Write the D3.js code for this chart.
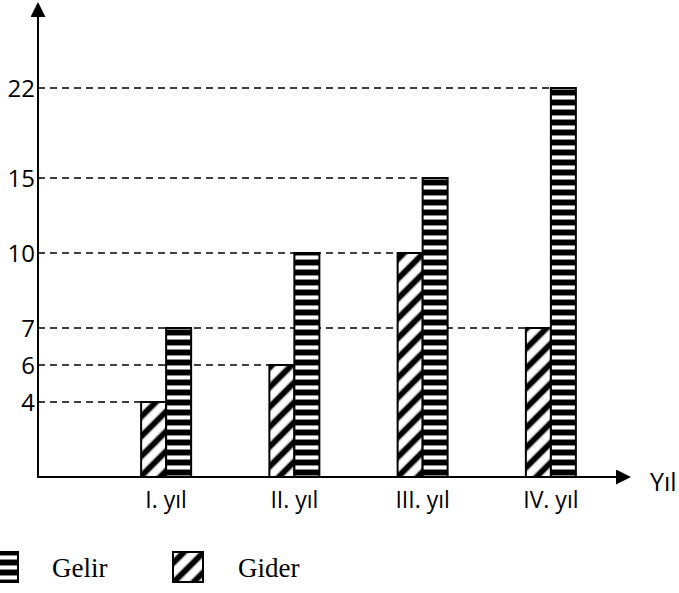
<!DOCTYPE html>
<html>
<head>
<meta charset="utf-8">
<script src="https://cdn.jsdelivr.net/npm/d3@7"></script>
<style>
  body { margin: 0; background: white; }
</style>
</head>
<body>
<svg width="679" height="593"></svg>
<script>
// data
var years = ["I. yıl", "II. yıl", "III. yıl", "IV. yıl"];
var gider = [4, 6, 10, 7];
var gelir = [7, 10, 15, 22];
var yTicks = [4, 6, 7, 10, 15, 22];
var series = ["Gider", "Gelir"];

var svg = d3.select("svg"),
    left = 38,
    base = 477;

// the drawing is not to scale, so the y axis is piecewise
var y = d3.scaleLinear()
    .domain([0, 4, 6, 7, 10, 15, 22])
    .range([base, 402, 365, 328, 253, 178, 88]);

var x0 = d3.scaleBand().domain(years).range([102, 615]);
var x1 = d3.scaleBand().domain(series).range([-25, 25]);

var defs = svg.append("defs");

// horizontal stripes (Gelir)
var pGelir = defs.append("pattern")
    .attr("id", "gelir")
    .attr("patternUnits", "userSpaceOnUse")
    .attr("width", 10).attr("height", 10);
pGelir.append("rect").attr("width", 10).attr("height", 10).attr("fill", "white");
pGelir.append("rect").attr("y", 0).attr("width", 10).attr("height", 5).attr("fill", "black");
pGelir.append("rect").attr("y", 5).attr("width", 10).attr("height", 1).attr("fill", "#888");
pGelir.append("rect").attr("y", 9).attr("width", 10).attr("height", 1).attr("fill", "#888");

// diagonal stripes (Gider)
var pGider = defs.append("pattern")
    .attr("id", "gider")
    .attr("patternUnits", "userSpaceOnUse")
    .attr("width", 14).attr("height", 14)
    .attr("patternTransform", "rotate(45)");
pGider.append("rect").attr("width", 14).attr("height", 14).attr("fill", "white");
pGider.append("rect").attr("x", 0).attr("width", 5).attr("height", 14).attr("fill", "black");
pGider.append("rect").attr("x", 5).attr("width", 1.2).attr("height", 14).attr("fill", "#999");
pGider.append("rect").attr("x", 12.8).attr("width", 1.2).attr("height", 14).attr("fill", "#999");

defs.append("marker")
    .attr("id", "arrow")
    .attr("viewBox", "0 -5 10 10")
    .attr("refX", 0).attr("refY", 0)
    .attr("markerUnits", "userSpaceOnUse")
    .attr("markerWidth", 15).attr("markerHeight", 15)
    .attr("orient", "auto")
    .append("path")
    .attr("d", "M0,-5L10,0L0,5Z")
    .attr("fill", "black");

// bars
var bars = [];
years.forEach(function(yr, i) {
    bars.push({year: yr, key: "Gider", value: gider[i]});
    bars.push({year: yr, key: "Gelir", value: gelir[i]});
});
bars.forEach(function(d) {
    d.x = x0(d.year) + x0.bandwidth() / 2 + x1(d.key);
});

// dashed guide lines: from the axis to the farthest bar with that value
var guides = yTicks.map(function(v) {
    var xs = bars.filter(function(d) { return d.value == v; })
        .map(function(d) { return d.x; });
    return {value: v, x: d3.max(xs)};
});

svg.append("g")
    .selectAll("line")
    .data(guides)
    .enter()
    .append("line")
    .attr("x1", left)
    .attr("x2", function(d) { return d.x; })
    .attr("y1", function(d) { return y(d.value); })
    .attr("y2", function(d) { return y(d.value); })
    .attr("stroke", "black")
    .attr("stroke-width", 1.6)
    .attr("stroke-dasharray", "7,5");

svg.append("g")
    .selectAll("rect")
    .data(bars)
    .enter()
    .append("rect")
    .attr("x", function(d) { return d.x; })
    .attr("y", function(d) { return y(d.value); })
    .attr("width", x1.bandwidth())
    .attr("height", function(d) { return base - y(d.value); })
    .attr("fill", function(d) { return d.key == "Gelir" ? "url(#gelir)" : "url(#gider)"; })
    .attr("stroke", "black")
    .attr("stroke-width", 2);

// axes
svg.append("line")
    .attr("x1", left).attr("y1", base + 1)
    .attr("x2", left).attr("y2", 17)
    .attr("stroke", "black").attr("stroke-width", 2)
    .attr("marker-end", "url(#arrow)");

svg.append("line")
    .attr("x1", left - 1).attr("y1", base)
    .attr("x2", 616).attr("y2", base)
    .attr("stroke", "black").attr("stroke-width", 2)
    .attr("marker-end", "url(#arrow)");

// tick labels
svg.append("g")
    .selectAll("text")
    .data(yTicks)
    .enter()
    .append("text")
    .attr("x", left - 3)
    .attr("y", function(d) { return y(d); })
    .attr("dy", "0.36em")
    .attr("text-anchor", "end")
    .style("font-family", "'Open Sans', sans-serif")
    .style("font-size", "24px")
    .text(function(d) { return d; });

svg.append("g")
    .selectAll("text")
    .data(years)
    .enter()
    .append("text")
    .attr("x", function(d) { return x0(d) + x0.bandwidth() / 2; })
    .attr("y", 508)
    .attr("text-anchor", "middle")
    .style("font-family", "'Open Sans', sans-serif")
    .style("font-size", "23px")
    .text(function(d) { return d; });

svg.append("text")
    .attr("x", 650).attr("y", 491)
    .style("font-family", "'Open Sans', sans-serif")
    .style("font-size", "25px")
    .text("Yıl");

// legend
var legend = [{key: "Gelir", x: -12, tx: 52}, {key: "Gider", x: 173, tx: 238}];
var lg = svg.append("g")
    .selectAll("g")
    .data(legend)
    .enter()
    .append("g");

lg.append("rect")
    .attr("x", function(d) { return d.x; })
    .attr("y", 552)
    .attr("width", 30).attr("height", 30)
    .attr("fill", function(d) { return d.key == "Gelir" ? "url(#gelir)" : "url(#gider)"; })
    .attr("stroke", "black")
    .attr("stroke-width", 2);

lg.append("text")
    .attr("x", function(d) { return d.tx; })
    .attr("y", 577)
    .style("font-family", "'Liberation Serif', serif")
    .style("font-size", "27px")
    .text(function(d) { return d.key; });
</script>
</body>
</html>
